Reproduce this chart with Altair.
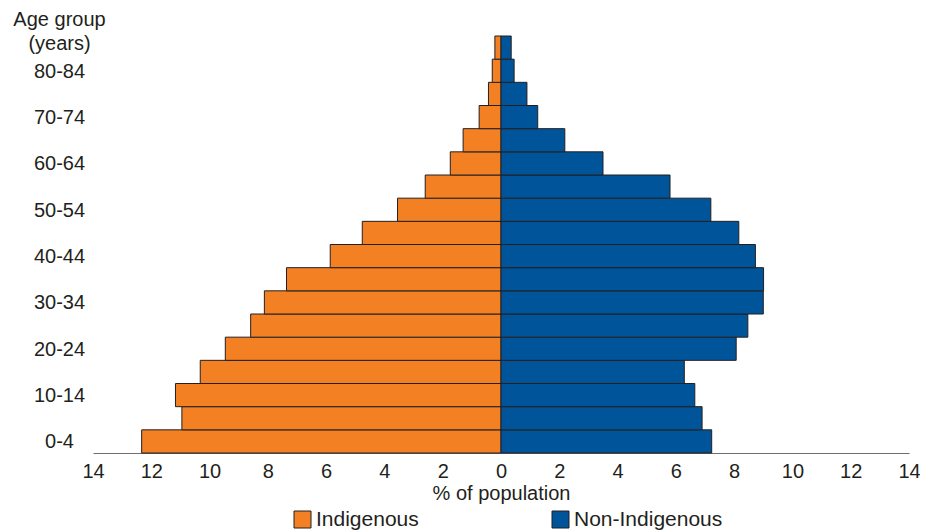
import altair as alt
import pandas as pd

ages = ["0-4", "5-9", "10-14", "15-19", "20-24", "25-29", "30-34", "35-39",
        "40-44", "45-49", "50-54", "55-59", "60-64", "65-69", "70-74",
        "75-79", "80-84", "85+"]
indigenous = [12.33, 10.95, 11.17, 10.32, 9.46, 8.59, 8.12, 7.36,
              5.86, 4.76, 3.55, 2.60, 1.74, 1.30, 0.75, 0.43, 0.30, 0.21]
non_indigenous = [7.23, 6.90, 6.65, 6.29, 8.07, 8.47, 9.00, 9.01,
                  8.73, 8.16, 7.20, 5.80, 3.50, 2.19, 1.26, 0.89, 0.45, 0.35]
groups = ["Indigenous", "Non-Indigenous"]
colors = ["#F38124", "#00559A"]
shown_ages = ["0-4", "10-14", "20-24", "30-34", "40-44", "50-54", "60-64", "70-74", "80-84"]
x_ticks = list(range(-14, 15, 2))

rows = []
for a, v in zip(ages, indigenous):
    rows.append({"age": a, "group": groups[0], "value": -v})
for a, v in zip(ages, non_indigenous):
    rows.append({"age": a, "group": groups[1], "value": v})
df = pd.DataFrame(rows)

FONT = "Liberation Sans"
TXT = "#231f20"

chart = alt.Chart(df).mark_bar(stroke="#231f20", strokeWidth=1).encode(
    x=alt.X("value:Q",
            scale=alt.Scale(domain=[-14, 14], nice=False, zero=False),
            axis=alt.Axis(values=x_ticks, labelExpr="abs(datum.value)",
                          ticks=False, grid=False, labelPadding=8,
                          title="% of population", titlePadding=2,
                          domainColor="#6d6e71", domainWidth=1,
                          labelFlush=False)),
    y=alt.Y("age:N", sort=list(reversed(ages)),
            scale=alt.Scale(paddingInner=0, paddingOuter=0),
            axis=alt.Axis(values=shown_ages, ticks=False, domain=False, grid=False,
                          labelAlign="center", labelPadding=34, labelOffset=1,
                          title=["Age group", "(years)"], titleAngle=0,
                          titleAlign="center", titleBaseline="alphabetic",
                          titleX=-34, titleY=-10.5, titleLineHeight=24)),
    color=alt.Color("group:N",
                    scale=alt.Scale(domain=groups, range=colors),
                    legend=alt.Legend(title=None, orient="none", direction="horizontal",
                                      legendX=199, legendY=473,
                                      symbolType="square", symbolSize=289,
                                      symbolStrokeColor="#231f20", symbolStrokeWidth=1,
                                      symbolOpacity=1,
                                      labelOffset=3, columnPadding=131, padding=0,
                                      labelFont=FONT, labelFontSize=21, labelColor=TXT)),
).properties(
    width=816, height=417,
    autosize=alt.AutoSizeParams(type="none"),
    padding={"left": 85, "top": 28, "right": 11, "bottom": 80},
).configure_view(stroke=None).configure_axis(
    labelFont=FONT, labelFontSize=20, labelColor=TXT,
    titleFont=FONT, titleFontSize=20, titleColor=TXT, titleFontWeight="normal",
)

chart.save("out.html", embed_options={"renderer": "svg", "actions": False})
